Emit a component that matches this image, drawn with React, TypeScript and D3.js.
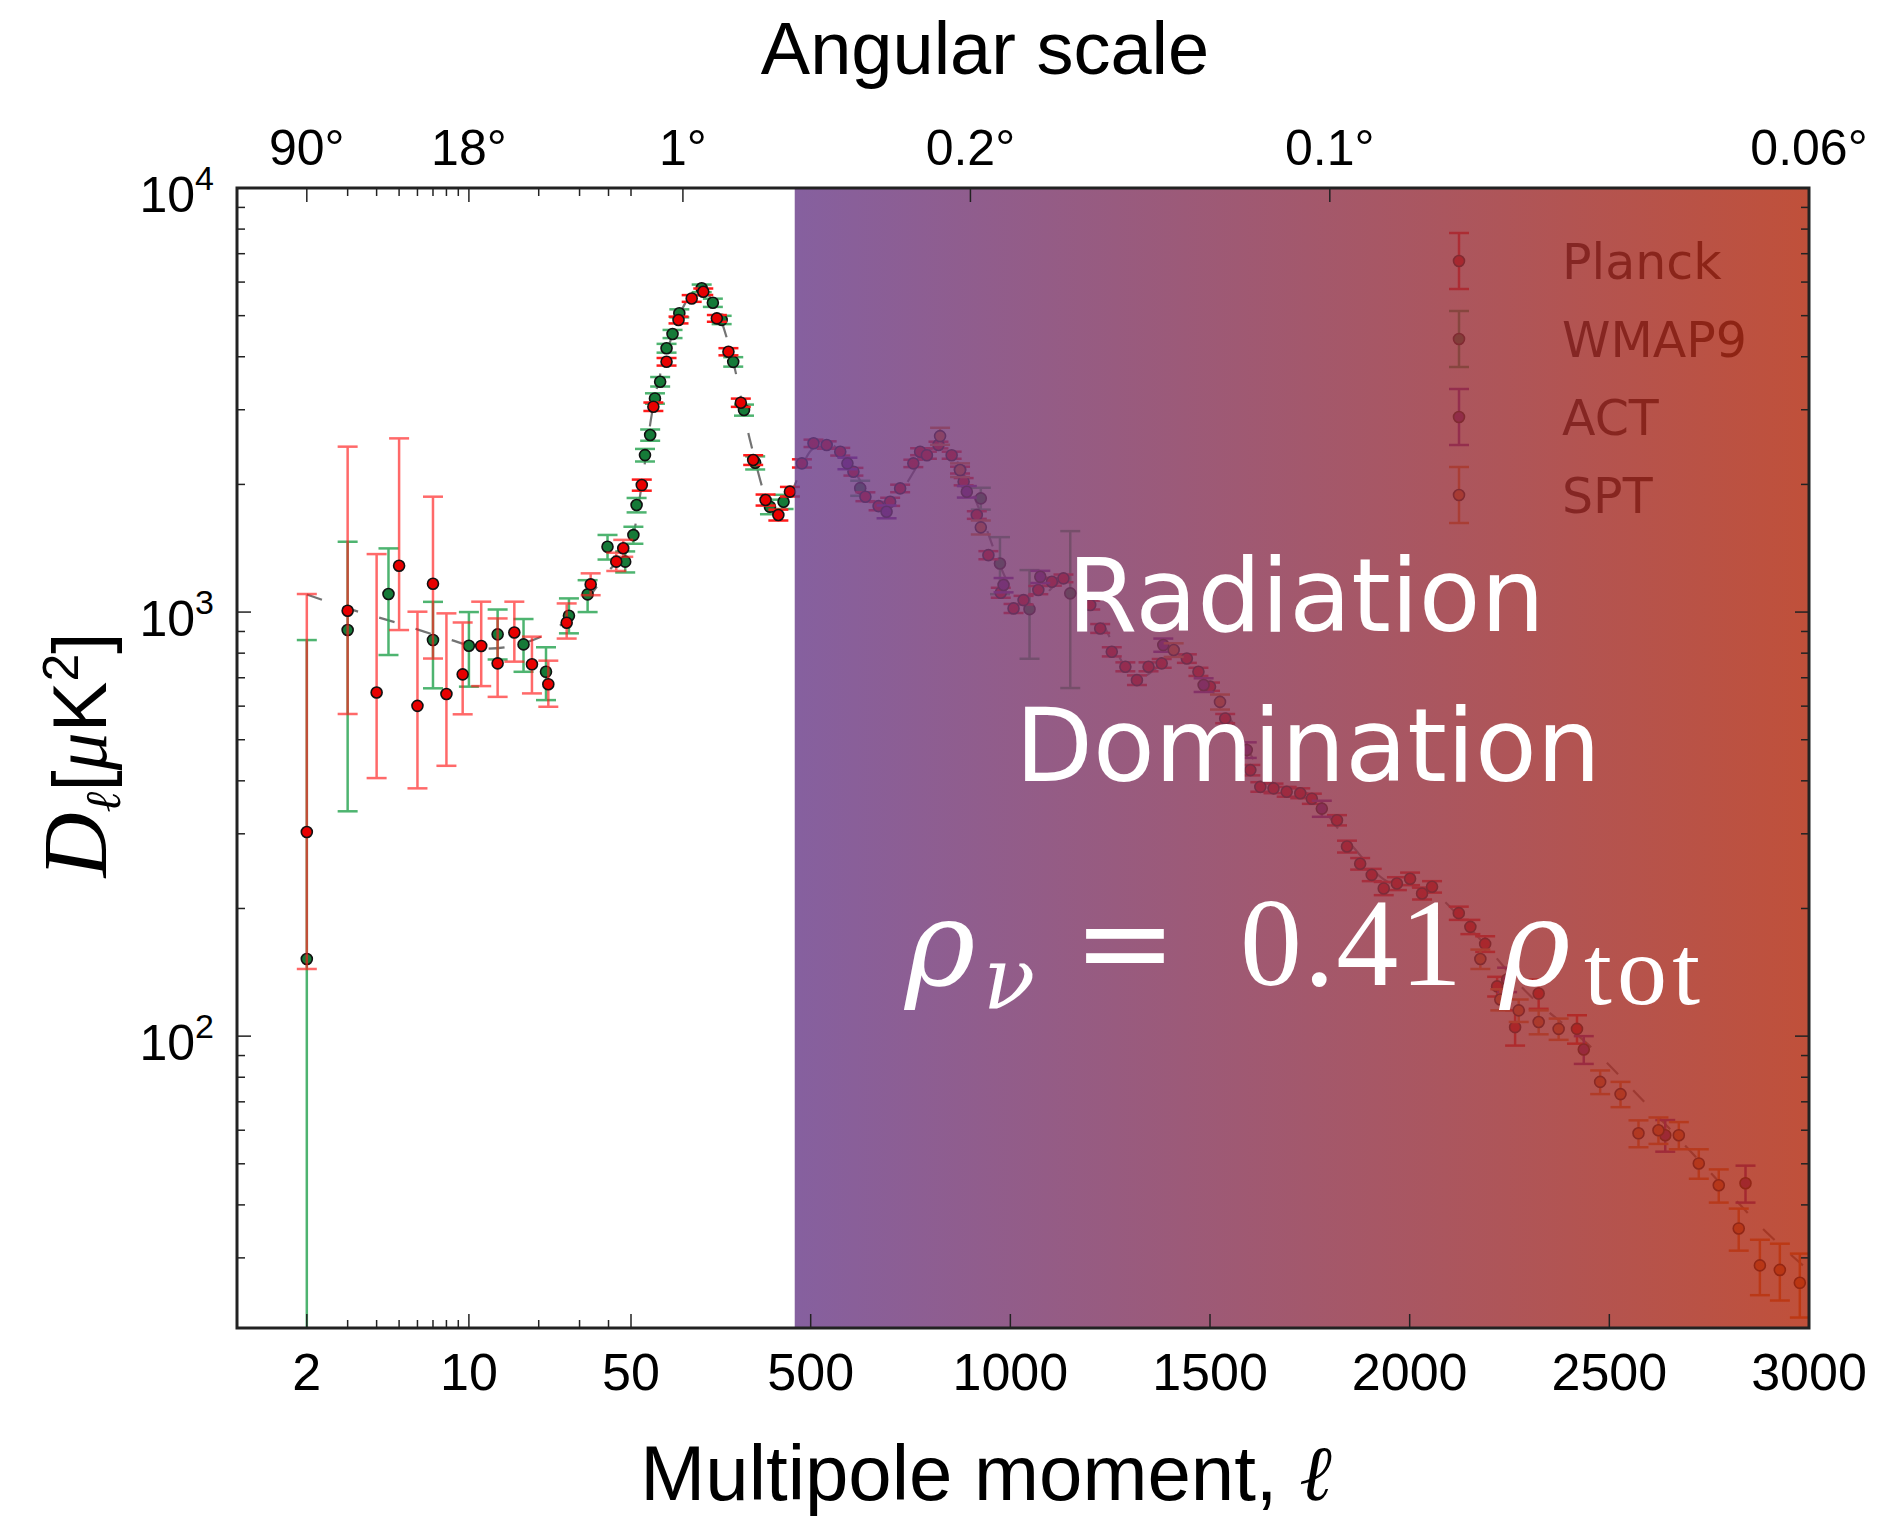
import React from "react";
import * as d3 from "d3";

const W = 1879;
const H = 1521;
const PLOT = { left: 237, right: 1809, top: 188, bottom: 1328 };
const BREAK_PX = 631; // where the log part of the x axis hands over to the linear part

const L_MIN = 1;
const L_BREAK = 50;
const L_MAX = 3000;
const D_MIN = 20.5;
const D_MAX = 10000;
const RADIATION_FROM = 460;

// [ell, D_ell, lower, upper]
const planckLow = [
  [2, 303, 144, 1103],
  [3, 1007, 575, 2455],
  [4, 646, 406, 1370],
  [5, 1286, 907, 2568],
  [6, 601, 384, 1002],
  [7, 1166, 777, 1871],
  [8, 641, 434, 993],
  [9.4, 713, 574, 945],
  [11.3, 832, 669, 1058],
  [13.3, 757, 631, 966],
  [15.7, 895, 764, 1058],
  [18.7, 753, 643, 875],
  [22, 676, 598, 768],
  [26.4, 944, 866, 1048],
  [33.5, 1162, 1096, 1234],
  [43.2, 1315, 1250, 1380],
  [46.3, 1414, 1350, 1480],
];

const wmapLow = [
  [2, 152, 1, 859],
  [3, 907, 339, 1465],
  [4.5, 1103, 792, 1413],
  [7, 859, 661, 1057],
  [10, 833, 667, 1000],
  [13.3, 886, 773, 1014],
  [17.2, 839, 723, 963],
  [21.5, 723, 620, 826],
  [27, 980, 891, 1077],
  [32.5, 1101, 1000, 1189],
  [39.6, 1426, 1330, 1520],
  [47.2, 1315, 1240, 1390],
];

// [ell, D_ell, error]
const planckHigh = [
  [77, 1993, 60], [106, 3050, 70], [139, 3893, 80], [169, 4884, 90], [202, 5490, 100],
  [231, 5694, 100], [265, 4927, 90], [294, 4111, 80], [325, 3117, 70], [356, 2283, 60],
  [387, 1838, 55], [419, 1694, 50], [448, 1923, 50], [478, 2242, 50], [507, 2500, 50],
  [540, 2477, 50], [574, 2389, 50], [607, 2143, 45], [637, 1871, 45], [670, 1778, 40],
  [699, 1820, 40], [724, 1957, 40], [757, 2242, 45], [774, 2389, 45], [791, 2344, 45],
  [820, 2477, 45], [853, 2344, 45], [874, 2162, 40], [883, 2030, 40], [916, 1694, 35],
  [945, 1362, 30], [976, 1111, 30], [1008, 1020, 25], [1033, 1067, 25], [1070, 1127, 25],
  [1104, 1179, 25], [1133, 1201, 25], [1200, 1039, 25], [1225, 915, 22], [1254, 806, 20],
  [1288, 743, 18], [1317, 691, 18], [1346, 743, 18], [1379, 757, 18], [1442, 777, 18],
  [1471, 723, 16], [1500, 667, 15], [1538, 561, 14], [1601, 424, 12], [1626, 387, 10],
  [1659, 384, 10], [1692, 377, 10], [1726, 374, 10], [1755, 363, 10], [1818, 323, 9],
  [1843, 280, 9], [1876, 255, 8], [1905, 240, 8], [1935, 223, 8], [1968, 229, 8],
  [2001, 235, 8], [2031, 217, 7], [2056, 225, 7], [2123, 195, 7], [2152, 181, 7],
  [2189, 165, 7], [2219, 131, 7], [2264, 105, 10], [2323, 126, 10], [2419, 104, 8],
];

const wmapHigh = [
  [56, 1519, 70], [64, 1788, 70], [85, 2345, 80], [98, 2615, 80], [110, 3190, 90],
  [123, 3493, 90], [139, 4190, 100], [154, 4527, 100], [171, 5064, 110], [227, 5800, 120],
  [255, 5363, 120], [277, 4886, 110], [306, 3891, 100], [333, 2995, 90], [361, 2249, 80],
  [398, 1771, 70], [432, 1820, 70], [624, 1960, 80], [926, 1854, 110], [974, 1302, 200],
  [1048, 1016, 240], [1150, 1107, 445],
];

const actData = [
  [592, 2242, 70], [690, 1724, 60], [891, 1922, 60], [983, 1158, 45], [1075, 1211, 40],
  [1383, 836, 30], [1484, 673, 25], [1592, 473, 20], [1780, 344, 15], [2244, 136, 9],
  [2436, 93, 7], [2640, 58.4, 5], [2841, 45, 4.5],
];

const sptData = [
  [824, 2600, 120], [874, 2162, 80], [926, 1584, 60], [1409, 814, 30], [1525, 614, 25],
  [2177, 152, 8], [2227, 122, 7], [2273, 115, 7], [2323, 108, 7], [2373, 104, 6],
  [2477, 78, 5], [2528, 73, 5], [2573, 59, 4.3], [2623, 60, 4.3], [2674, 58.4, 4.3],
  [2724, 50.1, 4], [2774, 44.5, 4], [2824, 35.2, 4], [2877, 28.8, 4.3], [2927, 28.1, 4.3],
  [2977, 26.2, 4.5],
];

// best-fit curve, dashed grey
const theoryCurve = [
  [2, 1100], [3, 1020], [5, 940], [8, 866], [12, 820], [20, 870], [30, 1020], [40, 1250],
  [50, 1450], [77, 2000], [100, 2850], [150, 4400], [200, 5600], [220, 5750], [250, 5500],
  [300, 4100], [350, 2500], [400, 1750], [420, 1690], [450, 1900], [500, 2400], [540, 2520],
  [600, 2200], [680, 1780], [720, 1900], [800, 2420], [830, 2480], [900, 1950], [1000, 1150],
  [1050, 1030], [1130, 1180], [1200, 1050], [1320, 700], [1420, 790], [1550, 560], [1650, 400],
  [1750, 370], [1850, 285], [1950, 230], [2050, 220], [2150, 180], [2300, 125], [2450, 95],
  [2600, 68], [2750, 48], [2900, 34], [3000, 28],
];

const bottomMajor = [2, 10, 50, 500, 1000, 1500, 2000, 2500, 3000];
const logMinor = [3, 4, 5, 6, 7, 8, 9, 20, 30, 40];
const angularTicks = [2, 10, 180, 900, 1800, 3000];
const angularLabels = ["90°", "18°", "1°", "0.2°", "0.1°", "0.06°"];
const yMajor = [100, 1000, 10000];
const legendNames = ["Planck", "WMAP9", "ACT", "SPT"];

const COLORS = {
  Planck: { bar: "#ff1a1a", fill: "#e80000" },
  WMAP9: { bar: "#30a858", fill: "#157a38" },
  ACT: { bar: "#7b22a8", fill: "#6a1a8c" },
  SPT: { bar: "#f07820", fill: "#e56a18" },
};

const xLog = d3.scaleLog().domain([L_MIN, L_BREAK]).range([PLOT.left, BREAK_PX]);
const xLin = d3.scaleLinear().domain([L_BREAK, L_MAX]).range([BREAK_PX, PLOT.right]);
const xScale = (l) => (l < L_BREAK ? xLog(l) : xLin(l));
const yScale = d3.scaleLog().domain([D_MIN, D_MAX]).range([PLOT.bottom, PLOT.top]);

const CAP = 10;

const ErrorBar = ({ l, lo, hi, color, width = 2.5, opacity = 1 }) => {
  const cx = xScale(l);
  const y1 = yScale(Math.max(lo, 1));
  const y2 = yScale(hi);
  return (
    <g stroke={color} strokeWidth={width} opacity={opacity}>
      <line x1={cx} x2={cx} y1={y1} y2={y2} />
      <line x1={cx - CAP} x2={cx + CAP} y1={y1} y2={y1} />
      <line x1={cx - CAP} x2={cx + CAP} y1={y2} y2={y2} />
    </g>
  );
};

const Dot = ({ l, v, fill }) => (
  <circle cx={xScale(l)} cy={yScale(v)} r={5.5} fill={fill} stroke="#111" strokeWidth={1.6} />
);

const sym = (d) => ({ l: d[0], v: d[1], lo: d[1] - d[2], hi: d[1] + d[2] });
const asym = (d) => ({ l: d[0], v: d[1], lo: d[2], hi: d[3] });

const Series = ({ points, name, barOpacity = 1 }) => {
  const c = COLORS[name];
  return (
    <g>
      {points.map((p, i) => (
        <ErrorBar key={"e" + i} l={p.l} lo={p.lo} hi={p.hi} color={c.bar} opacity={barOpacity} />
      ))}
      {points.map((p, i) => (
        <Dot key={"d" + i} l={p.l} v={p.v} fill={c.fill} />
      ))}
    </g>
  );
};

export default function App() {
  const theoryPath = d3
    .line()
    .x((d) => xScale(d[0]))
    .y((d) => yScale(d[1]))
    .curve(d3.curveMonotoneX)(theoryCurve);

  const overlayX = xScale(RADIATION_FROM);
  const yMinor = yScale.ticks().filter((t) => !yMajor.includes(t));

  const sans = "'Liberation Sans', Arial, sans-serif";
  const serif = "'Liberation Serif', 'DejaVu Serif', serif";
  const greek = "'DejaVu Serif', serif";

  return (
    <div style={{ position: "absolute", left: 0, top: 0 }}>
      <svg width={W} height={H} style={{ display: "block" }}>
        <defs>
          <clipPath id="plotClip">
            <rect x={PLOT.left} y={PLOT.top} width={PLOT.right - PLOT.left} height={PLOT.bottom - PLOT.top} />
          </clipPath>
          <linearGradient id="radGrad" x1="0" x2="1" y1="0" y2="0">
            <stop offset="0%" stopColor="#6b3d8a" />
            <stop offset="100%" stopColor="#b22a0f" />
          </linearGradient>
        </defs>
        <rect width={W} height={H} fill="#fff" />

        <g clipPath="url(#plotClip)">
          <path d={theoryPath} fill="none" stroke="#444" strokeWidth={2.2} strokeDasharray="16,22" opacity={0.75} />
          <Series points={wmapLow.map(asym)} name="WMAP9" barOpacity={0.85} />
          <Series points={wmapHigh.map(sym)} name="WMAP9" barOpacity={0.85} />
          <Series points={planckLow.map(asym)} name="Planck" barOpacity={0.65} />
          <Series points={planckHigh.map(sym)} name="Planck" />
          <Series points={actData.map(sym)} name="ACT" />
          <Series points={sptData.map(sym)} name="SPT" />
        </g>

        {/* legend, sits under the shaded band */}
        {legendNames.map((name, i) => {
          const ly = 261 + i * 78;
          const c = COLORS[name];
          return (
            <g key={name}>
              <g stroke={c.bar} strokeWidth={2.5}>
                <line x1={1459} x2={1459} y1={ly - 28} y2={ly + 28} />
                <line x1={1449} x2={1469} y1={ly - 28} y2={ly - 28} />
                <line x1={1449} x2={1469} y1={ly + 28} y2={ly + 28} />
              </g>
              <circle cx={1459} cy={ly} r={5.5} fill={c.fill} stroke="#111" strokeWidth={1.6} />
              <text x={1562} y={ly + 18} fontSize={49} fontFamily="'DejaVu Sans', sans-serif" fill="#000">
                {name}
              </text>
            </g>
          );
        })}

        <rect
          x={overlayX}
          y={PLOT.top}
          width={PLOT.right - overlayX}
          height={PLOT.bottom - PLOT.top}
          fill="url(#radGrad)"
          opacity={0.82}
        />

        {/* frame and ticks */}
        <g stroke="#222">
          {bottomMajor.map((t) => (
            <line key={"bM" + t} x1={xScale(t)} x2={xScale(t)} y1={PLOT.bottom} y2={PLOT.bottom - 14} strokeWidth={1.5} />
          ))}
          {logMinor.map((t) => (
            <line key={"bm" + t} x1={xScale(t)} x2={xScale(t)} y1={PLOT.bottom} y2={PLOT.bottom - 8} strokeWidth={1.5} />
          ))}
          {angularTicks.map((t) => (
            <line key={"tM" + t} x1={xScale(t)} x2={xScale(t)} y1={PLOT.top} y2={PLOT.top + 14} strokeWidth={1.5} />
          ))}
          {logMinor.concat([50]).map((t) => (
            <line key={"tm" + t} x1={xScale(t)} x2={xScale(t)} y1={PLOT.top} y2={PLOT.top + 8} strokeWidth={1.5} />
          ))}
          {yMajor.map((t) => (
            <g key={"yM" + t} strokeWidth={1.5}>
              <line x1={PLOT.left} x2={PLOT.left + 14} y1={yScale(t)} y2={yScale(t)} />
              <line x1={PLOT.right} x2={PLOT.right - 14} y1={yScale(t)} y2={yScale(t)} />
            </g>
          ))}
          {yMinor.map((t) => (
            <g key={"ym" + t} strokeWidth={1.5}>
              <line x1={PLOT.left} x2={PLOT.left + 8} y1={yScale(t)} y2={yScale(t)} />
              <line x1={PLOT.right} x2={PLOT.right - 8} y1={yScale(t)} y2={yScale(t)} />
            </g>
          ))}
          <rect
            x={PLOT.left}
            y={PLOT.top}
            width={PLOT.right - PLOT.left}
            height={PLOT.bottom - PLOT.top}
            fill="none"
            strokeWidth={3}
          />
        </g>

        {/* tick labels */}
        <g fontFamily={sans} fontSize={52} fill="#000" textAnchor="middle">
          {bottomMajor.map((t) => (
            <text key={"bl" + t} x={xScale(t)} y={1390}>
              {t}
            </text>
          ))}
        </g>
        <g fontFamily={sans} fontSize={50} fill="#000" textAnchor="middle">
          {angularTicks.map((t, i) => (
            <text key={"tl" + t} x={xScale(t)} y={165}>
              {angularLabels[i]}
            </text>
          ))}
        </g>
        <g fontFamily={sans} fontSize={50} fill="#000" textAnchor="end">
          {yMajor.map((t) => (
            <text key={"yl" + t} x={214} y={yScale(t) + 24}>
              10
              <tspan dy={-22} fontSize={34}>
                {Math.round(Math.log10(t))}
              </tspan>
            </text>
          ))}
        </g>

        {/* axis titles */}
        <text x={985} y={74} textAnchor="middle" fontFamily={sans} fontSize={74} fill="#000">
          Angular scale
        </text>
        <text x={986} y={1500} textAnchor="middle" fontFamily={sans} fontSize={78} fill="#000">
          Multipole moment,{" "}
          <tspan fontFamily={serif} fontStyle="italic">
            ℓ
          </tspan>
        </text>
        <text transform="translate(106,755) rotate(-90)" textAnchor="middle" fontSize={76} fill="#000">
          <tspan fontFamily={serif} fontStyle="italic" fontSize={90}>
            D
          </tspan>
          <tspan fontFamily={serif} fontStyle="italic" fontSize={50} dy={14}>
            ℓ
          </tspan>
          <tspan fontFamily={sans} dy={-14}>
            [
          </tspan>
          <tspan fontFamily={serif} fontStyle="italic">
            μ
          </tspan>
          <tspan fontFamily={sans}>K</tspan>
          <tspan fontFamily={sans} fontSize={50} dy={-28}>
            2
          </tspan>
          <tspan fontFamily={sans} dy={28}>
            ]
          </tspan>
        </text>

        {/* annotation */}
        <g fill="#fff">
          <text x={1306} y={631} textAnchor="middle" fontFamily="'DejaVu Sans', sans-serif" fontSize={101}>
            Radiation
          </text>
          <text x={1308} y={781} textAnchor="middle" fontFamily="'DejaVu Sans', sans-serif" fontSize={101}>
            Domination
          </text>
          <text x={905} y={985} fontFamily={greek} fontStyle="italic" fontSize={120}>
            ρ
          </text>
          <text x={983} y={1008} fontFamily={greek} fontStyle="italic" fontSize={86}>
            ν
          </text>
          <text x={1125} y={985} textAnchor="middle" fontFamily={greek} fontSize={124}>
            =
          </text>
          <text x={1240} y={985} fontFamily={serif} fontSize={124} textLength={222}>
            0.41
          </text>
          <text x={1500} y={985} fontFamily={greek} fontStyle="italic" fontSize={120}>
            ρ
          </text>
          <text x={1584} y={1004} fontFamily={serif} fontSize={100} textLength={116}>
            tot
          </text>
        </g>
      </svg>
    </div>
  );
}
